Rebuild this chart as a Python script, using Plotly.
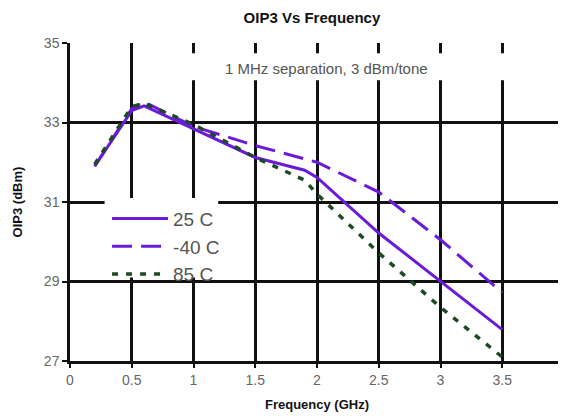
import plotly.graph_objects as go

freq_ghz = [0.2, 0.5, 0.6, 1.0, 1.5, 1.9, 2.0, 2.5, 3.0, 3.5]
oip3_25c = [31.9, 33.3, 33.42, 32.85, 32.12, 31.8, 31.62, 30.22, 29.0, 27.79]
oip3_m40c = [31.9, 33.35, 33.52, 32.9, 32.42, 32.08, 32.0, 31.25, 30.05, 28.72]
oip3_85c = [31.95, 33.4, 33.48, 32.95, 32.12, 31.55, 31.2, 29.72, 28.35, 27.1]

series_names = ["25 C", "-40 C", "85 C"]
x_ticks = [0, 0.5, 1, 1.5, 2, 2.5, 3, 3.5, 4]
x_tick_labels = ["0", "0.5", "1", "1.5", "2", "2.5", "3", "3.5", "4"]
y_ticks = [27, 29, 31, 33, 35]

PURPLE = "#6a1bd8"
GREEN = "#1c4a22"
FONT = "Liberation Sans, Arial, sans-serif"

fig = go.Figure()
fig.add_trace(go.Scatter(x=freq_ghz, y=oip3_25c, mode="lines", name=series_names[0],
                         line=dict(color=PURPLE, width=3)))
fig.add_trace(go.Scatter(x=freq_ghz, y=oip3_m40c, mode="lines", name=series_names[1],
                         line=dict(color=PURPLE, width=3, dash="20px,9px")))
fig.add_trace(go.Scatter(x=freq_ghz, y=oip3_85c, mode="lines", name=series_names[2],
                         line=dict(color=GREEN, width=3.5, dash="6px,8px")))

# white boxes that hide the grid behind the note and the legend
fig.add_shape(type="rect", xref="x", yref="y", x0=0.75, x1=3.85, y0=34.06, y1=34.74,
              fillcolor="white", line=dict(width=0), layer="between")
fig.add_shape(type="rect", xref="x", yref="y", x0=0.28, x1=1.2, y0=29.1, y1=31.1,
              fillcolor="white", line=dict(width=0), layer="between")

fig.add_annotation(text="1 MHz separation, 3 dBm/tone", xref="x", yref="y",
                   x=2.08, y=34.37, showarrow=False,
                   font=dict(family=FONT, size=15, color="#555555"))

fig.update_layout(
    width=566, height=418,
    margin=dict(l=62, r=6, t=35, b=65),
    paper_bgcolor="white", plot_bgcolor="white",
    title=dict(text="<b>OIP3 Vs Frequency</b>", x=0.537, xanchor="center", y=0.976,
               yanchor="middle", font=dict(family=FONT, size=15, color="#111111")),
    showlegend=True,
    legend=dict(x=0.075, y=0.507, xanchor="left", yanchor="top",
                bgcolor="rgba(0,0,0,0)", borderwidth=0, itemwidth=56,
                font=dict(family=FONT, size=19, color="#555555")),
    font=dict(family=FONT),
)

fig.update_xaxes(range=[0, 4], tickvals=x_ticks, ticktext=x_tick_labels,
                 showgrid=True, gridcolor="#111111", gridwidth=2.5,
                 zeroline=False, showline=True, linecolor="#111111", linewidth=2.5,
                 ticks="outside", ticklen=4, tickwidth=2, tickcolor="#111111",
                 tickfont=dict(family=FONT, size=14, color="#666666"),
                 title=dict(text="<b>Frequency (GHz)</b>", standoff=14,
                            font=dict(family=FONT, size=13, color="#111111")),
                 fixedrange=True)
fig.update_yaxes(range=[27, 35], tickvals=y_ticks,
                 showgrid=True, gridcolor="#111111", gridwidth=2.5,
                 zeroline=False, showline=True, linecolor="#111111", linewidth=2.5,
                 ticks="outside", ticklen=5, tickwidth=2, tickcolor="#111111",
                 tickfont=dict(family=FONT, size=14, color="#666666"),
                 title=dict(text="<b>OIP3 (dBm)</b>", standoff=19,
                            font=dict(family=FONT, size=13, color="#111111")),
                 fixedrange=True)

fig.write_html("out.html")
